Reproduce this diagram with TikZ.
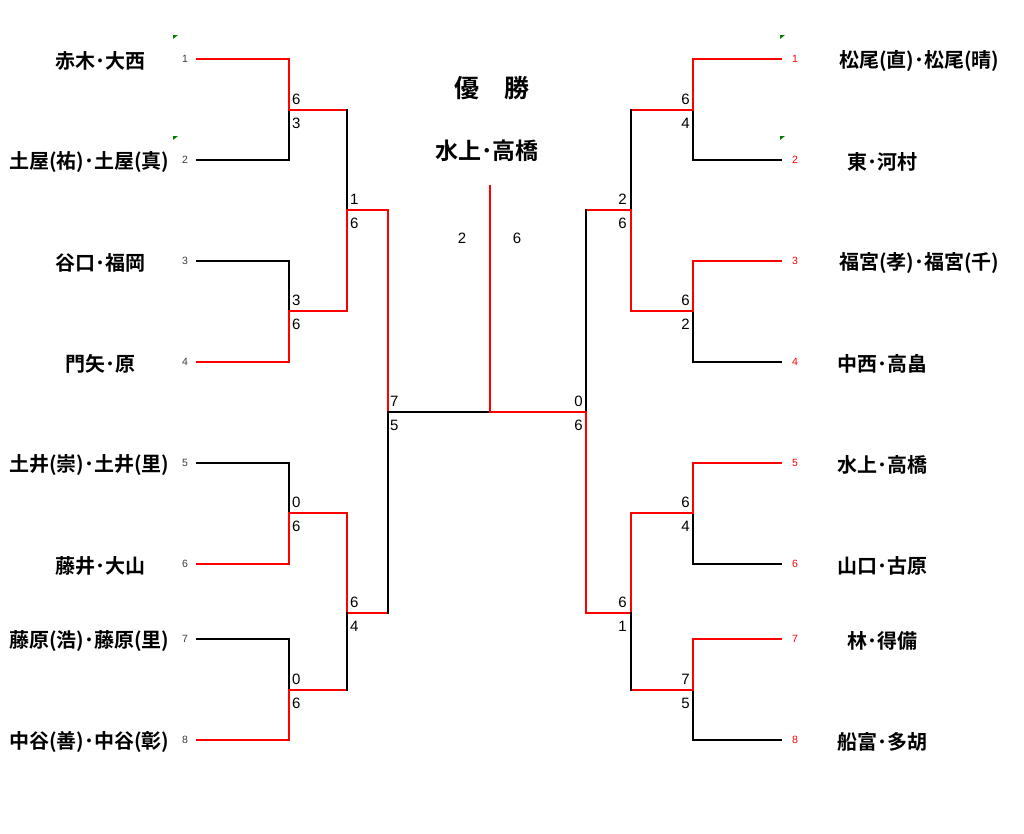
\documentclass[tikz,border=0pt]{standalone}
\usepackage{fontspec}
\setmainfont{Liberation Sans}
\newfontfamily\jp{Noto Sans CJK JP}[BoldFont={Noto Sans CJK JP Bold}]
\definecolor{winred}{RGB}{255,0,0}
\definecolor{seedgray}{RGB}{60,60,60}
\definecolor{markgreen}{RGB}{0,128,0}
\tikzset{
  lose/.style={draw=black,line width=1.4pt,line cap=rect},
  win/.style={draw=winred,line width=1.4pt,line cap=rect},
  pname/.style={font=\jp\bfseries\fontsize{20}{20}\selectfont,inner sep=0pt},
  score/.style={font=\fontsize{15}{15}\selectfont,inner sep=0pt},
  seedL/.style={font=\fontsize{10.5}{10.5}\selectfont,inner sep=0pt,text=seedgray},
  seedR/.style={font=\fontsize{10.5}{10.5}\selectfont,inner sep=0pt,text=winred},
  cmark/.style={fill=markgreen,draw=none}
}
\begin{document}
\begin{tikzpicture}[x=1pt,y=-1pt]
\useasboundingbox[fill=white] (0,0) rectangle (1024,833);
% ---------- title ----------
\node[font=\jp\bfseries\fontsize{25}{25}\selectfont,inner sep=0pt] (title) at (492,88) {優　勝};
\node[font=\jp\bfseries\fontsize{23}{23}\selectfont,inner sep=0pt] (champ) at (487,151) {水上･高橋};
% ---------- left names ----------
\node[pname] (L1) at (100,61) {赤木･大西};
\node[pname,anchor=west] (L2) at (9,162) {土屋(祐)･土屋(真)};
\node[pname] (L3) at (100,263) {谷口･福岡};
\node[pname] (L4) at (100,364) {門矢･原};
\node[pname,anchor=west] (L5) at (9,465) {土井(崇)･土井(里)};
\node[pname] (L6) at (100,566) {藤井･大山};
\node[pname,anchor=west] (L7) at (9,641) {藤原(浩)･藤原(里)};
\node[pname,anchor=west] (L8) at (9,742) {中谷(善)･中谷(彰)};
% ---------- right names ----------
\node[pname,anchor=west] (R1) at (839,61) {松尾(直)･松尾(晴)};
\node[pname] (R2) at (882,162) {東･河村};
\node[pname,anchor=west] (R3) at (839,263) {福宮(孝)･福宮(千)};
\node[pname] (R4) at (882,364) {中西･高畠};
\node[pname] (R5) at (882,465) {水上･高橋};
\node[pname] (R6) at (882,566) {山口･古原};
\node[pname] (R7) at (882,641) {林･得備};
\node[pname] (R8) at (882,742) {船富･多胡};
% ---------- seeds ----------
\foreach \i/\y in {1/59,2/160,3/261,4/362,5/463,6/564,7/639,8/740}{
  \node[seedL] (sl\i) at (185,\y) {\i};
  \node[seedR] (sr\i) at (795,\y) {\i};
}
% ---------- comment marks ----------
\foreach \x/\y [count=\k] in {173/35,173/136,780/35,780/136}{
  \fill[cmark] (\x,\y) -- ++(5,0) -- ++(-5,4) -- cycle;
}
% ---------- coordinates ----------
\foreach \i/\y in {1/59,2/160,3/261,4/362,5/463,6/564,7/639,8/740}{
  \coordinate (la\i) at (197,\y);
  \coordinate (lb\i) at (289,\y);
  \coordinate (ra\i) at (781,\y);
  \coordinate (rb\i) at (693,\y);
}
\coordinate (lm1) at (289,110); \coordinate (lm2) at (289,311);
\coordinate (lm3) at (289,513); \coordinate (lm4) at (289,690);
\coordinate (lq1a) at (347,110); \coordinate (lq1m) at (347,210); \coordinate (lq1b) at (347,311);
\coordinate (lq2a) at (347,513); \coordinate (lq2m) at (347,613); \coordinate (lq2b) at (347,690);
\coordinate (ls1) at (388,210); \coordinate (lsm) at (388,412); \coordinate (ls2) at (388,613);
\coordinate (fb) at (490,412); \coordinate (ft) at (490,186);
\coordinate (rm1) at (693,110); \coordinate (rm2) at (693,311);
\coordinate (rm3) at (693,513); \coordinate (rm4) at (693,690);
\coordinate (rq1a) at (631,110); \coordinate (rq1m) at (631,210); \coordinate (rq1b) at (631,311);
\coordinate (rq2a) at (631,513); \coordinate (rq2m) at (631,613); \coordinate (rq2b) at (631,690);
\coordinate (rs1) at (586,210); \coordinate (rsm) at (586,412); \coordinate (rs2) at (586,613);
% ---------- left bracket ----------
\draw[win]  (la1) -- (lb1) -- (lm1);
\draw[lose] (la2) -- (lb2) -- (lm1);
\draw[lose] (la3) -- (lb3) -- (lm2);
\draw[win]  (la4) -- (lb4) -- (lm2);
\draw[lose] (la5) -- (lb5) -- (lm3);
\draw[win]  (la6) -- (lb6) -- (lm3);
\draw[lose] (la7) -- (lb7) -- (lm4);
\draw[win]  (la8) -- (lb8) -- (lm4);
\draw[win] (lm1) -- (lq1a);
\draw[win] (lm2) -- (lq1b);
\draw[win] (lm3) -- (lq2a);
\draw[win] (lm4) -- (lq2b);
\draw[lose] (lq1a) -- (lq1m);
\draw[win]  (lq1b) -- (lq1m) -- (ls1);
\draw[win]  (lq2a) -- (lq2m) -- (ls2);
\draw[lose] (lq2b) -- (lq2m);
\draw[win]  (ls1) -- (lsm);
\draw[lose] (ls2) -- (lsm) -- (fb);
% ---------- right bracket ----------
\draw[win]  (ra1) -- (rb1) -- (rm1);
\draw[lose] (ra2) -- (rb2) -- (rm1);
\draw[win]  (ra3) -- (rb3) -- (rm2);
\draw[lose] (ra4) -- (rb4) -- (rm2);
\draw[win]  (ra5) -- (rb5) -- (rm3);
\draw[lose] (ra6) -- (rb6) -- (rm3);
\draw[win]  (ra7) -- (rb7) -- (rm4);
\draw[lose] (ra8) -- (rb8) -- (rm4);
\draw[win] (rm1) -- (rq1a);
\draw[win] (rm2) -- (rq1b);
\draw[win] (rm3) -- (rq2a);
\draw[win] (rm4) -- (rq2b);
\draw[lose] (rq1a) -- (rq1m);
\draw[win]  (rq1b) -- (rq1m) -- (rs1);
\draw[win]  (rq2a) -- (rq2m) -- (rs2);
\draw[lose] (rq2b) -- (rq2m);
\draw[lose] (rs1) -- (rsm);
\draw[win]  (rs2) -- (rsm) -- (fb);
\draw[win]  (fb) -- (ft);
% ---------- scores left ----------
\foreach \y/\a/\b [count=\k] in {110/6/3,311/3/6,513/0/6,690/0/6}{
  \node[score,anchor=west] (sla\k) at (292,\y-11) {\a};
  \node[score,anchor=west] (slb\k) at (292,\y+13) {\b};
}
\foreach \y/\a/\b [count=\k] in {210/1/6,613/6/4}{
  \node[score,anchor=west] (qla\k) at (350,\y-11) {\a};
  \node[score,anchor=west] (qlb\k) at (350,\y+13) {\b};
}
\node[score,anchor=west] (sfla) at (390,401) {7};
\node[score,anchor=west] (sflb) at (390,425) {5};
% ---------- scores right ----------
\foreach \y/\a/\b [count=\k] in {110/6/4,311/6/2,513/6/4,690/7/5}{
  \node[score,anchor=east] (sra\k) at (690,\y-11) {\a};
  \node[score,anchor=east] (srb\k) at (690,\y+13) {\b};
}
\foreach \y/\a/\b [count=\k] in {210/2/6,613/6/1}{
  \node[score,anchor=east] (qra\k) at (627,\y-11) {\a};
  \node[score,anchor=east] (qrb\k) at (627,\y+13) {\b};
}
\node[score,anchor=east] (sfra) at (583,401) {0};
\node[score,anchor=east] (sfrb) at (583,425) {6};
% ---------- final scores ----------
\node[score] (fl) at (462,238) {2};
\node[score] (fr) at (517,238) {6};
\end{tikzpicture}
\end{document}
